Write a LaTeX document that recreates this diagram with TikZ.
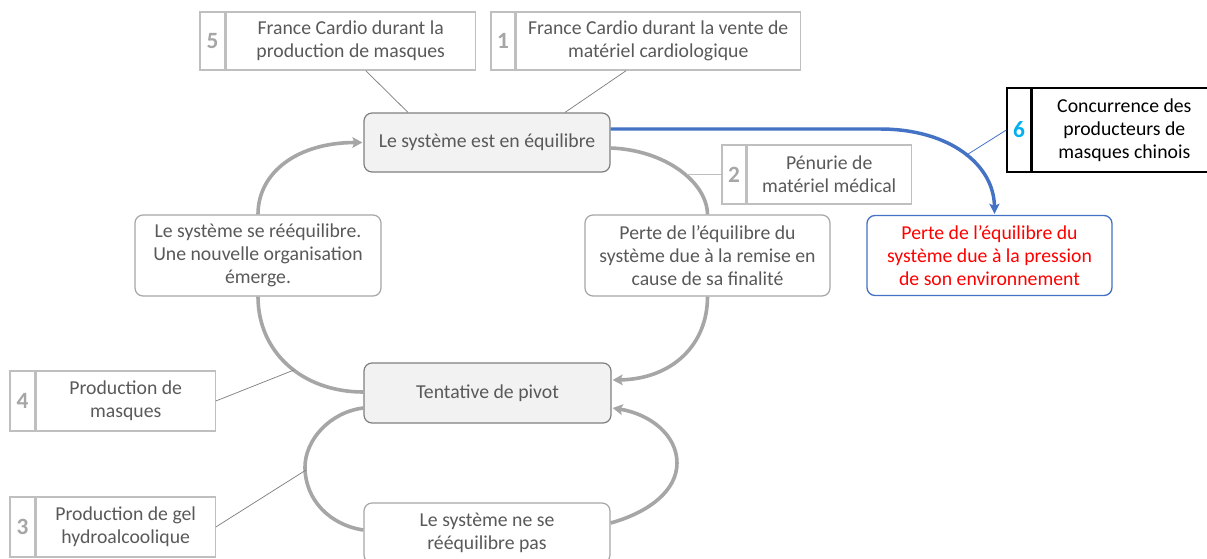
\documentclass[tikz,border=0pt]{standalone}
\usepackage{fontspec}
\setmainfont{Carlito}
\usetikzlibrary{arrows.meta,calc}
\newdimen\pxu \pxu=0.75pt
\definecolor{txtgray}{HTML}{595959}
\definecolor{darkgray}{HTML}{7F7F7F}
\definecolor{midgray}{HTML}{A6A6A6}
\definecolor{lightgray}{HTML}{BFBFBF}
\definecolor{fillgray}{HTML}{F2F2F2}
\definecolor{myblue}{HTML}{4472C4}
\definecolor{mycyan}{HTML}{00B0F0}
\definecolor{myred}{HTML}{FF0000}
\tikzset{
  every node/.style={font=\fontsize{14.8}{17.3}\selectfont, inner sep=0pt, align=center},
  mainbox/.style={draw=darkgray, fill=fillgray, rounded corners=8\pxu, line width=0.9pt, text=txtgray},
  phasebox/.style={draw=midgray, fill=white, rounded corners=8\pxu, line width=0.9pt, text=txtgray},
  redbox/.style={draw=myblue, fill=white, rounded corners=8\pxu, line width=1pt, text=myred},
  numcell/.style={draw=lightgray, line width=0.9pt, text=midgray, font=\fontsize{17.5}{19}\selectfont\bfseries},
  txtcell/.style={draw=lightgray, line width=0.9pt, text=txtgray, anchor=west},
  numcellb/.style={draw=black, line width=1pt, text=mycyan, font=\fontsize{17.5}{19}\selectfont\bfseries},
  txtcellb/.style={draw=black, line width=1pt, text=black, anchor=west},
  cyc/.style={draw=midgray, line width=2.7pt},
  cycarrow/.style={cyc, -{Stealth[length=7.5pt,width=8pt,inset=1.5pt]}},
  bluearrow/.style={draw=myblue, line width=2.6pt, -{Stealth[length=7.5pt,width=7.5pt,inset=1.5pt]}},
  conn/.style={draw=darkgray, line width=0.55pt},
  connlight/.style={draw=lightgray, line width=0.9pt},
  connblue/.style={draw=myblue, line width=0.6pt}
}
\begin{document}
\begin{tikzpicture}[x=0.75pt,y=-0.75pt]
\useasboundingbox (0,0) rectangle (1207,558);

% main cycle nodes
\node[mainbox, minimum width=246\pxu, minimum height=59\pxu] (A) at (487,142.5) {Le système est en équilibre};
\node[phasebox, minimum width=245\pxu, minimum height=81\pxu] (B) at (707.5,255.5) {Perte de l’équilibre du\\système due à la remise en\\cause de sa finalité};
\node[mainbox, minimum width=247\pxu, minimum height=60\pxu] (P) at (487.5,393) {Tentative de pivot};
\node[phasebox, minimum width=246\pxu, minimum height=81\pxu] (L) at (258,255.5) {Le système se rééquilibre.\\Une nouvelle organisation\\émerge.};
\node[phasebox, minimum width=246\pxu, minimum height=60\pxu] (N) at (487,533) {Le système ne se\\rééquilibre pas};
\node[redbox, minimum width=245\pxu, minimum height=80\pxu] (R) at (989.5,255.5) {Perte de l’équilibre du\\système due à la pression\\de son environnement};

% callout boxes
\node[numcell, minimum width=25\pxu, minimum height=58\pxu] (n5) at (212.5,41) {5};
\node[txtcell, minimum width=249\pxu, minimum height=58\pxu] (t5) at (n5.east) {France Cardio durant la\\production de masques};
\node[numcell, minimum width=24\pxu, minimum height=58\pxu] (n1) at (503,41) {1};
\node[txtcell, minimum width=284\pxu, minimum height=58\pxu] (t1) at (n1.east) {France Cardio durant la vente de\\matériel cardiologique};
\node[numcell, minimum width=24\pxu, minimum height=59\pxu] (n2) at (734,174.5) {2};
\node[txtcell, minimum width=164\pxu, minimum height=59\pxu] (t2) at (n2.east) {Pénurie de\\matériel médical};
\node[numcellb, minimum width=24\pxu, minimum height=84\pxu] (n6) at (1019,130) {6};
\node[txtcellb, minimum width=184\pxu, minimum height=84\pxu] (t6) at (n6.east) {Concurrence des\\producteurs de\\masques chinois};
\node[numcell, minimum width=25\pxu, minimum height=60\pxu] (n4) at (22.5,401) {4};
\node[txtcell, minimum width=179\pxu, minimum height=60\pxu] (t4) at (n4.east) {Production de\\masques};
\node[numcell, minimum width=25\pxu, minimum height=60\pxu] (n3) at (22.5,527) {3};
\node[txtcell, minimum width=179\pxu, minimum height=60\pxu] (t3) at (n3.east) {Production de gel\\hydroalcoolique};

% cycle arcs
\draw[cyc] ($(A.east)+(0,5.5)$) .. controls (665,150) and (707,182) .. (B.north);
\draw[cycarrow] (B.south) .. controls (707.5,345) and (672,379) .. ($(P.east)+(1,-13)$);
\draw[cyc] ($(P.west)+(0,-1)$) .. controls (302,392) and (258,352) .. (L.south);
\draw[cycarrow] (L.north) .. controls (258,172) and (298,142.5) .. ($(A.west)+(-1,0)$);
\draw[cyc] ($(P.west)+(0,15)$) .. controls (330,412) and (305,440) .. (305,467) .. controls (305,500) and (330,525) .. ($(N.west)+(0,-3)$);
\draw[cycarrow] ($(N.east)+(0,-10)$) .. controls (650,512) and (677,490) .. (677,463) .. controls (677,435) and (650,414) .. ($(P.east)+(1,15)$);

% blue arrow
\draw[bluearrow] ($(A.east)+(0,-13.5)$) -- (880,129) .. controls (950,129) and (994,165) .. ($(R.north)+(5,-1)$);

% connector anchor points on the arcs
\coordinate (k2) at (687,174.5);
\coordinate (k4) at (294,370);
\coordinate (k3) at (306,470);
\coordinate (k6) at (965,156);

% callout connectors
\draw[conn] ($(t5.south)+(15,0)$) -- ($(A.north)+(-79,0)$);
\draw[conn] ($(t1.south)+(-32,0)$) -- ($(A.north)+(78,0)$);
\draw[connlight] (n2.west) -- (k2);
\draw[conn] (t4.east) -- (k4);
\draw[conn] (t3.east) -- (k3);
\draw[connblue] (n6.west) -- (k6);
\end{tikzpicture}
\end{document}
